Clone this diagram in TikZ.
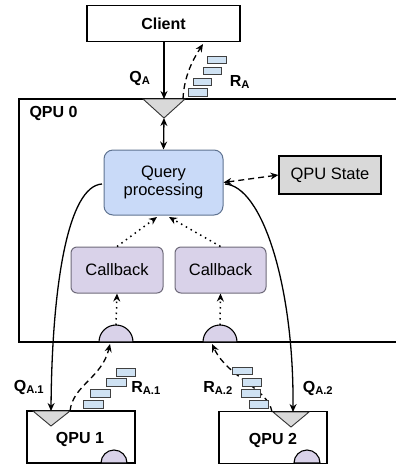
\documentclass[tikz,border=0pt]{standalone}
\usepackage{fontspec}
\setmainfont{Liberation Sans}
\usetikzlibrary{arrows.meta}
\definecolor{qblue}{HTML}{C9DAF8}
\definecolor{qblueD}{HTML}{5F7391}
\definecolor{lav}{HTML}{D9D2E9}
\definecolor{lavD}{HTML}{6E6A7A}
\definecolor{gr}{HTML}{D9D9D9}
\definecolor{rblue}{HTML}{CFE2F3}
\tikzset{
  box/.style={draw=black, line width=1.4pt, fill=white, inner sep=0pt},
  lbl/.style={font=\fontsize{16.5}{18.5}\selectfont},
  blbl/.style={font=\bfseries\fontsize{16}{18}\selectfont},
  arr/.style={line width=1.3pt, -{Stealth[length=8pt,width=7pt]}},
  darr/.style={line width=1.3pt, {Stealth[length=8pt,width=7pt]}-{Stealth[length=8pt,width=7pt]}},
  rq/.style={draw=black!75, line width=0.9pt, fill=rblue},
  tri/.style={draw=black!80, line width=0.9pt, fill=gr},
  semi/.style={draw=black, line width=1.1pt, fill=lav},
  dsh/.style={dashed, dash pattern=on 6pt off 4pt},
  dtt/.style={dotted, line width=1.5pt, dash pattern=on 1.5pt off 4pt},
}
\begin{document}
\begin{tikzpicture}[x=1pt,y=-1pt]
\useasboundingbox (0,0) rectangle (396,467);
\clip (0,0) rectangle (396,467);
% QPU 0 container
\draw[line width=1.4pt] (400,99) -- (19,99) -- (19,342) -- (400,342);
\node[blbl, anchor=west] (q0) at (26,113) {QPU 0};
% Client
\node[box, minimum width=153pt, minimum height=36pt, blbl] (client) at (163.5,23.5) {Client};
% entry triangle
\draw[tri] (143,99) -- (185,99) -- (164,118) -- cycle;
\coordinate (tritip) at (164,118);
\coordinate (qin) at (164,99);
\coordinate (rout) at (183,99);
% query processing
\node[draw=qblueD, line width=1pt, fill=qblue, rounded corners=9pt, minimum width=119pt, minimum height=65pt, align=center, lbl, inner sep=0pt] (qp) at (163.5,182.5) {Query\\[-1pt]processing};
% QPU state
\node[draw=black, line width=1.3pt, fill=gr, minimum width=102pt, minimum height=38pt, lbl, inner sep=0pt] (st) at (330,175) {QPU State};
\draw[darr, dsh] (qp.east) -- (st.west);
% callbacks
\node[draw=lavD, line width=1pt, fill=lav, rounded corners=6pt, minimum width=92pt, minimum height=46pt, lbl, inner sep=0pt] (cb1) at (117,270) {Callback};
\node[draw=lavD, line width=1pt, fill=lav, rounded corners=6pt, minimum width=91pt, minimum height=46pt, lbl, inner sep=0pt] (cb2) at (220.5,270) {Callback};
\draw[arr, dtt] (cb1.north) -- (157,217);
\draw[arr, dtt] (cb2.north) -- (169,217);
% semicircles on bottom edge
\draw[semi] (99,342) arc (180:360:17) -- cycle;
\draw[semi] (203,342) arc (180:360:17) -- cycle;
\coordinate (s1top) at (116,325);
\coordinate (s2top) at (220,325);
\coordinate (s1b) at (110,344);
\coordinate (s2b) at (212,344);
\draw[arr, dtt] (s1top) -- (cb1.south);
\draw[arr, dtt] (s2top) -- (cb2.south);
% client <-> QPU 0
\draw[arr] (client.south -| qin) -- (qin);
\draw[darr] (tritip) -- (qp.north);
\draw[arr, dsh] (rout) .. controls (184,75) and (194,58) .. (203,44);
\draw[rq] (207,56) rectangle (226,63);
\draw[rq] (203,67) rectangle (221,74);
\draw[rq] (193,78) rectangle (211,85);
\draw[rq] (188,88) rectangle (207,96);
\node[blbl] (qa) at (140,78) {Q\textsubscript{A}};
\node[blbl] (ra) at (240,82) {R\textsubscript{A}};
% QPU 1
\node[box, minimum width=108pt, minimum height=52pt] (p1) at (81,437) {};
\node[blbl] (p1t) at (80,439) {QPU 1};
\draw[tri] (33,411) -- (70,411) -- (51,426) -- cycle;
\draw[semi] (101,463) arc (180:360:13) -- cycle;
% QPU 2
\node[box, minimum width=108pt, minimum height=52pt] (p2) at (273,437.5) {};
\node[blbl] (p2t) at (273,440) {QPU 2};
\draw[tri] (273,412) -- (309,412) -- (291,427) -- cycle;
\draw[semi] (294,463) arc (180:360:13) -- cycle;
\coordinate (t1) at (51,411);
\coordinate (t2) at (293,412);
\coordinate (t1r) at (70,411);
\coordinate (t2l) at (272,412);
% dispatch curves
\draw[arr] (102,184) .. controls (68,186) and (52,285) .. (t1);
\draw[arr] (225,184) .. controls (262,186) and (294,285) .. (t2);
% responses
\draw[arr, dsh] (t1r) .. controls (73,385) and (102,378) .. (s1b);
\draw[arr, dsh] (t2l) .. controls (268,388) and (228,378) .. (s2b);
\draw[rq] (116,368) rectangle (135,376);
\draw[rq] (106,378) rectangle (126,386);
\draw[rq] (90,389) rectangle (110,397);
\draw[rq] (83,400) rectangle (103,408);
\draw[rq] (232,367) rectangle (252,374);
\draw[rq] (242,378) rectangle (261,386);
\draw[rq] (241,389) rectangle (260,397);
\draw[rq] (249,400) rectangle (268,408);
\node[blbl] (qa1) at (29,387) {Q\textsubscript{A.1}};
\node[blbl] (ra1) at (146,388) {R\textsubscript{A.1}};
\node[blbl] (ra2) at (218,388) {R\textsubscript{A.2}};
\node[blbl] (qa2) at (318,388) {Q\textsubscript{A.2}};
\end{tikzpicture}
\end{document}
